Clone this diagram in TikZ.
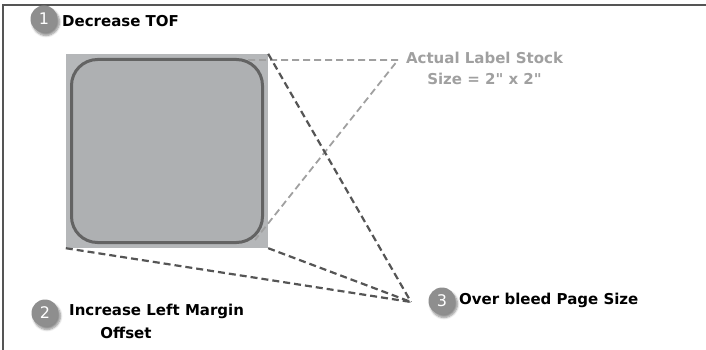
\documentclass[tikz,border=0pt]{standalone}
\usepackage{fontspec}
\setmainfont{DejaVu Sans}[Ligatures=TeXOff]
\usepackage{tikz}
\usetikzlibrary{shadows.blur}
\definecolor{framegray}{HTML}{555555}
\definecolor{stockgray}{HTML}{B5B7B9}
\definecolor{labelgray}{HTML}{AEB0B2}
\definecolor{edgegray}{HTML}{636363}
\definecolor{dotgray}{HTML}{8E8E8E}
\definecolor{textgray}{HTML}{A0A0A0}

\begin{document}
\begin{tikzpicture}[x=1pt,y=-1pt,
  step num/.style = {circle, fill=dotgray, text=white, minimum size=27pt, inner sep=0pt, font=\fontsize{16}{16}\selectfont, blur shadow={shadow xshift=2pt, shadow yshift=-3pt, shadow blur steps=6, shadow opacity=45}},
  caption/.style = {anchor=west, inner sep=0pt, font=\fontsize{15}{18}\selectfont\bfseries},
  bleed line/.style = {draw=framegray, line width=2.2pt, dash pattern=on 7pt off 4pt},
  stock line/.style = {draw=textgray, line width=1.8pt, dash pattern=on 7pt off 4pt}]
\useasboundingbox (0,0) rectangle (706,350);
\draw [framegray, line width=1.6pt] (3,350) -- (3,5) -- (706,5);
\node[fill=stockgray, minimum width=202pt, minimum height=194pt, inner sep=0pt](sq) at (167,151) {};
\node[draw=edgegray, fill=labelgray, line width=3pt, rounded corners=26pt, minimum width=191pt, minimum height=183pt, inner sep=0pt](lbl) at (167,151) {};
\coordinate (stock) at (398,60); \coordinate (bleed) at (411,302);
\draw [stock line] (248,60) -- (stock) -- (255,240);
\draw [bleed line] (sq.north east) -- (bleed); \draw [bleed line] (sq.south east) -- (bleed); \draw [bleed line] (sq.south west) -- (bleed);
\node[step num](1) at (44,19) {1}; \node[caption](t1) at (62,21) {Decrease TOF};
\node[step num](2) at (45,313) {2}; \node[caption](t2) at (69,311) {Increase Left Margin}; \node[caption, anchor=center](t2b) at (126,333) {Offset};
\node[step num](3) at (442,301) {3}; \node[caption](t3) at (459,300.5) {Over bleed Page Size};
\node[caption, anchor=center, align=center, text=textgray, font=\fontsize{15}{21}\selectfont\bfseries](s) at (484.5,68.5) {Actual Label Stock\\Size = 2" x 2"};
\end{tikzpicture}
\end{document}
